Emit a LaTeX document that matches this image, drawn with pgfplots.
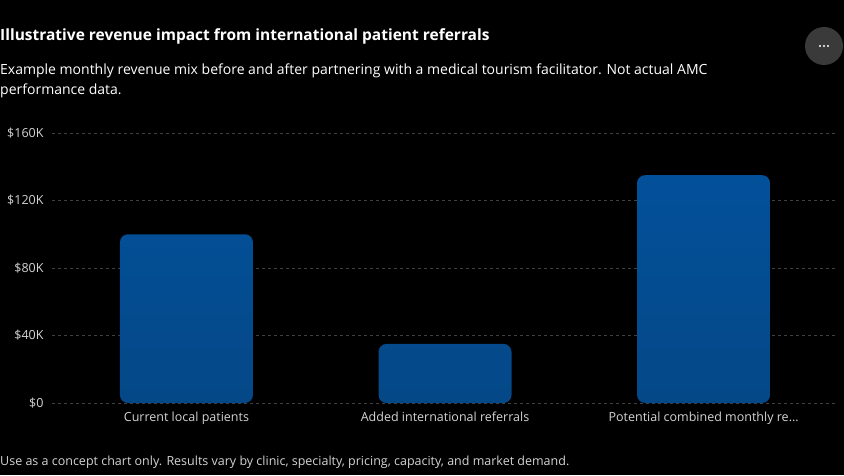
\documentclass[border=0pt]{standalone}
\usepackage{pgfplots}
\pgfplotsset{compat=1.18}
\usepackage{fontspec}
\setmainfont{Open Sans}
\definecolor{bartop}{HTML}{03509A}
\definecolor{barbot}{HTML}{044887}
\definecolor{gridc}{HTML}{404040}
\definecolor{tickc}{HTML}{D4D4D4}
\definecolor{menuc}{HTML}{3A3A3A}
\begin{document}
\begin{tikzpicture}[x=1pt,y=1pt]
\fill[black] (0,0) rectangle (844,475);
% titles
\node[anchor=west, inner sep=0pt, text=white, font=\fontsize{15.5}{18}\selectfont\bfseries]
  at (0,439) {Illustrative revenue impact from international patient referrals};
\node[anchor=west, inner sep=0pt, text=white, font=\fontsize{14}{18}\selectfont]
  at (0,404) {Example monthly revenue mix before and after partnering with a medical tourism facilitator. Not actual AMC};
\node[anchor=west, inner sep=0pt, text=white, font=\fontsize{14}{18}\selectfont]
  at (0,384) {performance data.};
\node[anchor=west, inner sep=0pt, text=tickc, font=\fontsize{12.5}{15}\selectfont]
  at (0,13) {Use as a concept chart only. Results vary by clinic, specialty, pricing, capacity, and market demand.};
% menu button
\fill[menuc] (824,429) circle (19);
\foreach \dx in {-4,0,4} \fill[white] (824+\dx,429) circle (1.1);

\begin{axis}[
    at={(52pt,72pt)}, anchor=south west,
    scale only axis, width=786pt, height=270pt,
    xmin=-0.52, xmax=2.52, ymin=0, ymax=160000,
    clip=false,
    axis line style={draw=none},
    major tick length=0pt,
    ymajorgrids,
    grid style={gridc, dash pattern=on 3pt off 3pt},
    ytick={0,40000,80000,120000,160000},
    yticklabels={\$0,\$40K,\$80K,\$120K,\$160K},
    scaled y ticks=false,
    xtick={0,1,2},
    xticklabels={Current local patients,Added international referrals,Potential combined monthly re…},
    ticklabel style={text=tickc, font=\fontsize{12.5}{15}\selectfont},
    yticklabel style={xshift=-5pt},
    xticklabel style={yshift=-5pt},
  ]
\addplot[ybar, bar width=133pt, draw=none, top color=bartop, bottom color=barbot, rounded corners=8pt]
  coordinates {(0,100000) (1,35000) (2,135000)};
\end{axis}
\end{tikzpicture}
\end{document}
